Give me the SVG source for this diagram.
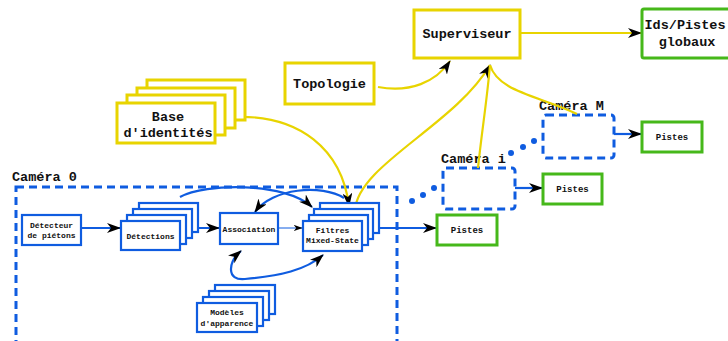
<svg xmlns="http://www.w3.org/2000/svg" width="728" height="341" viewBox="0 0 728 341">
<defs>
<style>
.b{fill:#fff;stroke:#0f5ce0;stroke-width:2.2}
.y{fill:#fff;stroke:#e8d400;stroke-width:3}
.g{fill:#fff;stroke:#46b81a;stroke-width:3}
.cam{fill:none;stroke:#0f5ce0;stroke-width:3;stroke-dasharray:8 5}
.t{font-family:"Liberation Mono","Courier New",monospace;font-weight:bold;fill:#111;text-anchor:middle}
.s{font-size:8px}
.p{font-size:9px}
.l{font-size:13.5px}
.lab{font-family:"Liberation Mono","Courier New",monospace;font-weight:bold;fill:#111;font-size:13.5px}
.bl{fill:none;stroke:#0f5ce0;stroke-width:2.2}
.yl{fill:none;stroke:#e8d400;stroke-width:2.2}
</style>
<marker id="ah" viewBox="0 0 14 10" refX="13" refY="5" markerWidth="14" markerHeight="10" markerUnits="userSpaceOnUse" orient="auto-start-reverse">
<path d="M0,0 L14,5 L0,10 L4,5 z" fill="#000"/>
</marker>
<marker id="ahs" viewBox="0 0 14 10" refX="13" refY="5" markerWidth="9" markerHeight="7" markerUnits="userSpaceOnUse" orient="auto">
<path d="M0,0 L14,5 L0,10 L4,5 z" fill="#000"/>
</marker>
</defs>
<rect width="728" height="341" fill="#fff"/>

<g id="camera0">
<rect class="cam" x="16" y="187" width="381" height="200"/>
<text class="lab" x="12" y="181">Caméra 0</text>
</g>

<g id="cameraI">
<rect class="cam" x="443" y="168" width="72" height="41" rx="3" stroke-dasharray="7 4"/>
<text class="lab" x="441" y="163">Caméra i</text>
</g>

<g id="cameraM">
<rect class="cam" x="543" y="115" width="71" height="43" rx="3" stroke-dasharray="7 4"/>
<text class="lab" x="539" y="110">Caméra M</text>
</g>

<g id="connectors">
<path class="yl" d="M233,117 C300,114 342,150 349,206" marker-end="url(#ah)"/>
<path class="yl" d="M355,210 C358,165 455,125 490,65" marker-end="url(#ah)"/>
<path class="yl" d="M478,168 C482,130 487,100 490,65"/>
<path class="yl" d="M577,114 C540,96 498,92 490,65"/>
<path class="yl" d="M378,87 C410,93 436,82 450,61" marker-end="url(#ah)"/>
<path class="yl" d="M520,33 L641,33" marker-end="url(#ah)"/>
<path class="bl" d="M81,228 L120,228" marker-end="url(#ah)"/>
<path class="bl" d="M181,228 L219,228" marker-end="url(#ah)"/>
<path d="M278,228 L302,228" fill="none" stroke="#0f5ce0" stroke-width="1" marker-end="url(#ahs)"/>
<path class="bl" d="M379,228 L436,228" marker-end="url(#ah)"/>
<path class="bl" d="M180,197 C205,183 285,182 312,207" marker-end="url(#ah)"/>
<path class="bl" d="M344,198 C322,184 272,188 255,212" marker-end="url(#ah)"/>
<path class="bl" d="M241,251 C228,262 226,281 245,279 C280,276 306,270 323,255" marker-start="url(#ah)" marker-end="url(#ah)"/>
<path class="bl" d="M515,188 L522,188 L542,188" marker-end="url(#ah)"/>
<path class="bl" d="M614,134 L620,134 L641,134" marker-end="url(#ah)"/>
<g fill="#0f5ce0">
<circle cx="412" cy="201" r="3"/>
<circle cx="423" cy="195" r="3"/>
<circle cx="434" cy="188" r="3"/>
<circle cx="511" cy="153" r="3"/>
<circle cx="523" cy="147" r="3"/>
<circle cx="534" cy="141" r="3"/>
</g>
</g>

<g id="detecteur">
<rect class="b" x="22" y="215" width="59" height="30"/>
<text class="t s" x="51.5" y="228">Détecteur</text>
<text class="t s" x="51.5" y="238">de piétons</text>
</g>

<g id="detections">
<rect class="b" x="139" y="203" width="59" height="29"/>
<rect class="b" x="133" y="209" width="59" height="29"/>
<rect class="b" x="127" y="215" width="59" height="29"/>
<rect class="b" x="121" y="221" width="59" height="29"/>
<text class="t s" x="150.5" y="239">Détections</text>
</g>

<g id="association">
<rect class="b" x="220" y="213" width="58" height="31"/>
<text class="t s" x="249" y="232">Association</text>
</g>

<g id="filtres">
<rect class="b" x="320" y="203" width="59" height="30"/>
<rect class="b" x="314" y="209" width="59" height="30"/>
<rect class="b" x="309" y="215" width="59" height="30"/>
<rect class="b" x="303" y="221" width="59" height="30"/>
<text class="t s" x="332.5" y="233">Filtres</text>
<text class="t s" x="332.5" y="243">Mixed-State</text>
</g>

<g id="modeles">
<rect class="b" x="215" y="285" width="60" height="29"/>
<rect class="b" x="209" y="291" width="60" height="29"/>
<rect class="b" x="203" y="297" width="60" height="29"/>
<rect class="b" x="197" y="303" width="60" height="29"/>
<text class="t s" x="227" y="315">Modèles</text>
<text class="t s" x="227" y="326">d'apparence</text>
</g>

<g id="base">
<rect class="y" x="147" y="80" width="98" height="40"/>
<rect class="y" x="137" y="88" width="98" height="40"/>
<rect class="y" x="127" y="95" width="98" height="40"/>
<rect class="y" x="117" y="103" width="98" height="40"/>
<text class="t l" x="168" y="121">Base</text>
<text class="t l" x="168" y="137">d'identités</text>
</g>

<g id="topologie">
<rect class="y" x="285" y="63" width="89" height="41"/>
<text class="t l" x="329.5" y="88">Topologie</text>
</g>

<g id="superviseur">
<rect class="y" x="414" y="10" width="106" height="48"/>
<text class="t l" x="467" y="38">Superviseur</text>
</g>

<g id="ids">
<rect class="g" x="642" y="9" width="96" height="49" rx="2"/>
<text class="t l" x="685" y="29">Ids/Pistes</text>
<text class="t l" x="687" y="46">globaux</text>
</g>

<g id="pistes0">
<rect class="g" x="437" y="215" width="60" height="30"/>
<text class="t p" x="467" y="233">Pistes</text>
</g>

<g id="pistesI">
<rect class="g" x="543" y="174" width="59" height="30"/>
<text class="t p" x="572.5" y="192">Pistes</text>
</g>

<g id="pistesM">
<rect class="g" x="642" y="122" width="60" height="30"/>
<text class="t p" x="672" y="140">Pistes</text>
</g>
</svg>
